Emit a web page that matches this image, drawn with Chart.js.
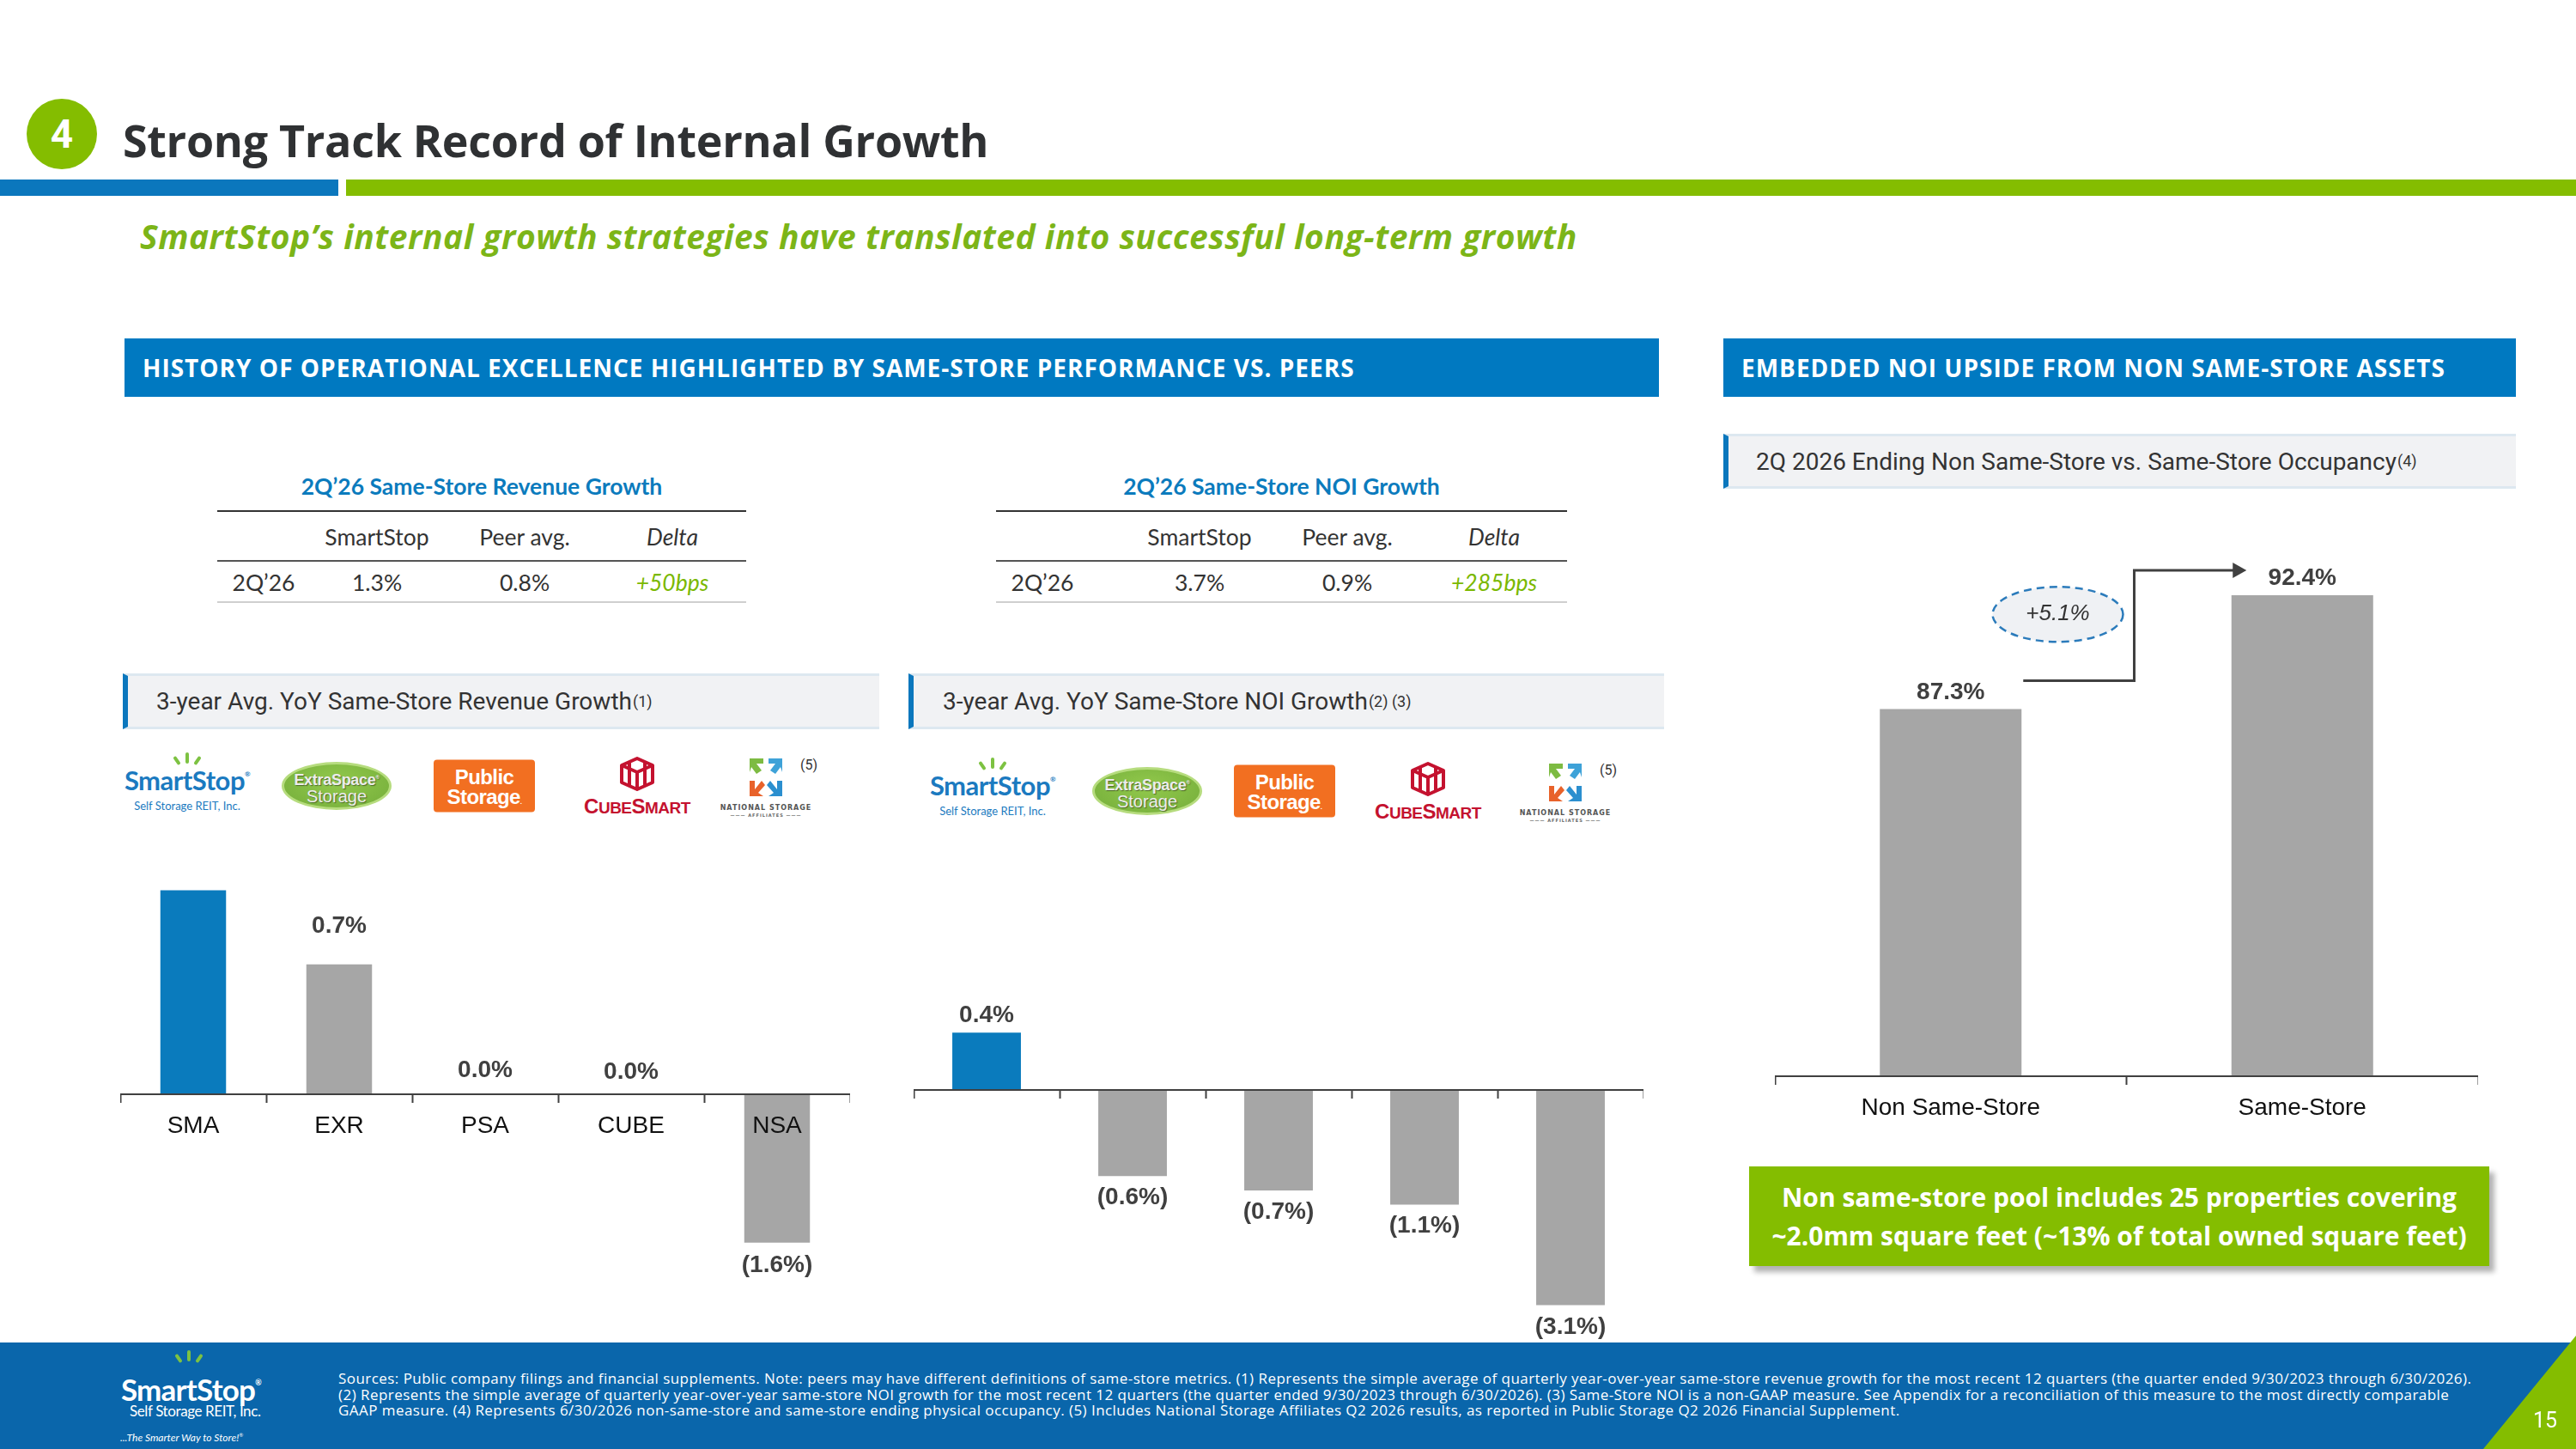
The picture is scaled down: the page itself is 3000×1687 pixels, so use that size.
<!DOCTYPE html>
<html>
<head>
<meta charset="utf-8">
<title>Strong Track Record of Internal Growth</title>
<script src="https://cdn.jsdelivr.net/npm/chart.js@4.4.1/dist/chart.umd.min.js"></script>
<style>
  html, body { margin: 0; padding: 0; }
  body {
    width: 3000px; height: 1687px; position: relative; overflow: hidden;
    background: #fff; font-family: Roboto, "Liberation Sans", sans-serif; color: #333;
  }
  .abs { position: absolute; }
  .t { position: absolute; white-space: nowrap; line-height: 1; }
  .c { transform: translate(-50%, -50%); }
  canvas { position: absolute; }

  /* header */
  .badge {
    left: 31px; top: 115px; width: 82px; height: 82px; border-radius: 50%;
    background: #84bd00; color: #fff; font: 700 46px Roboto, sans-serif;
    display: flex; align-items: center; justify-content: center;
  }
  .title { left: 143px; top: 127px; font: 700 52px "Open Sans", sans-serif; color: #2f3133; letter-spacing: -0.3px; }
  .subtitle { left: 163px; top: 248px; font: italic 700 39px "Open Sans", sans-serif; color: #7cb518; letter-spacing: 0.5px; }

  .section {
    top: 394px; height: 68px; background: #0079c1; color: #fff;
    font: 700 28px "Open Sans", sans-serif; display: flex; align-items: center; letter-spacing: 1px;
    padding-left: 21px; box-sizing: border-box; white-space: nowrap;
  }
  .subhead {
    height: 65px; background: #f1f2f4; box-sizing: border-box;
    border-left: 6px solid #0b77bd; border-top: 3px solid #dde8f0; border-bottom: 3px solid #dde8f0;
    font: 400 28px Roboto, sans-serif; color: #333; display: flex; align-items: center;
    white-space: nowrap;
  }
  .subhead sup { font-size: 18px; vertical-align: 11px; line-height: 0; margin-left: 1px; }

  /* tables */
  .tbl-title { font: 700 26.5px Lato, sans-serif; color: #0b7bbd; }
  .cell { font: 400 26.5px Lato, sans-serif; color: #333; }
  .cell.i { font-style: italic; }
  .cell.g { color: #7ab800; font-style: italic; }
  .rule { position: absolute; height: 2px; }

  /* logos */
  .logo { position: absolute; transform: translate(-50%, -50%); }
  .ss { width: 150px; height: 78px; }
  .ss .ray { position: absolute; width: 4px; height: 13px; background: #7dc242; border-radius: 2px; top: 0; }
  .ss .name { position: absolute; left: 0; right: 0; top: 17px; text-align: center; font: 700 31px Lato, sans-serif; color: #1b7ac0; letter-spacing: -0.5px; line-height: 1; }
  .ss .sub { position: absolute; left: 0; right: 0; top: 56px; text-align: center; font: 400 13px Lato, sans-serif; color: #1b7ac0; line-height: 1; }
  .exr {
    width: 122px; height: 50px; border-radius: 50%; border: 3px solid #b6dc7e;
    background: radial-gradient(ellipse at 50% 40%, #92c94c 0%, #74ad3a 100%);
    text-align: center; color: #ececec; text-shadow: 1px 1px 1px #4d6b2a;
    font-family: "Liberation Sans Narrow", "Liberation Sans", sans-serif; font-weight: 700;
  }
  .exr .a { font-size: 18px; line-height: 18px; padding-top: 6px; letter-spacing: -0.3px; }
  .exr .b { font-size: 20px; line-height: 20px; font-weight: 400; }
  .psa {
    width: 118px; height: 61px; background: #f26f21; border-radius: 4px; color: #fff;
    font: 700 24px "Liberation Sans", Arial, sans-serif; text-align: center; line-height: 23px;
    letter-spacing: -0.6px; box-sizing: border-box; padding-top: 8px;
  }
  .cube { width: 130px; height: 70px; text-align: center; }
  .cube .word { position: absolute; left: 0; right: 0; top: 47px; font: 700 19px "Liberation Sans Narrow", "Liberation Sans", sans-serif; color: #c4122f; line-height: 1; letter-spacing: -0.5px; }
  .cube .word b { font-size: 24px; }
  .nsa { width: 112px; height: 76px; }
  .nsa .w1 { position: absolute; left: 0; right: 0; top: 60px; text-align: center; font: 700 8px "DejaVu Sans", sans-serif; letter-spacing: 1px; color: #555; line-height: 1; }
  .nsa .w2 { position: absolute; left: 0; right: 0; top: 70px; text-align: center; font: 700 5px "DejaVu Sans", sans-serif; letter-spacing: 1px; color: #666; line-height: 1; }
  .nsa .fn { position: absolute; left: 96px; top: 4px; font: 400 16px Roboto, sans-serif; color: #333; }

  /* callout + footer */
  .callout {
    left: 2037px; top: 1358px; width: 862px; height: 116px; background: #84bd00;
    box-shadow: 6px 7px 6px rgba(0, 0, 0, 0.3); color: #fff; text-align: center;
    font: 700 30px "Open Sans", sans-serif; line-height: 45px; box-sizing: border-box; padding-top: 13px;
    white-space: nowrap;
  }
  .footer { left: 0; top: 1563px; width: 3000px; height: 124px; background: #0a66ab; }
  .notes { left: 394px; top: 1596px; font: 400 17px "Open Sans", sans-serif; letter-spacing: 0.45px; color: #fff; line-height: 18.5px; white-space: nowrap; }
</style>
</head>
<body>

<div class="abs badge">4</div>
<div class="t title">Strong Track Record of Internal Growth</div>
<div class="abs" style="left:0;top:209px;width:394px;height:19px;background:#0b77bd"></div>
<div class="abs" style="left:403px;top:209px;width:2597px;height:19px;background:#84bd00"></div>
<div class="t subtitle">SmartStop’s internal growth strategies have translated into successful long-term growth</div>

<div class="abs section" style="left:145px;width:1787px">HISTORY OF OPERATIONAL EXCELLENCE HIGHLIGHTED BY SAME-STORE PERFORMANCE VS. PEERS</div>
<div class="abs section" style="left:2007px;width:923px">EMBEDDED NOI UPSIDE FROM NON SAME-STORE ASSETS</div>

<div class="abs subhead" style="left:2007px;top:505px;width:923px;height:64px;padding-left:32px">2Q 2026 Ending Non Same-Store vs. Same-Store Occupancy<sup>(4)</sup></div>
<div class="abs subhead" style="left:143px;top:784px;width:881px;padding-left:33px">3-year Avg. YoY Same-Store Revenue Growth<sup>(1)</sup></div>
<div class="abs subhead" style="left:1058px;top:784px;width:880px;padding-left:34px">3-year Avg. YoY Same-Store NOI Growth<sup>(2) (3)</sup></div>

<div id="tables"></div>
<div id="logos"></div>

<canvas id="revenueChart" width="850" height="540" style="left:140px;top:1000px"></canvas>
<canvas id="noiChart" width="850" height="565" style="left:1064px;top:1000px"></canvas>
<canvas id="occupancyChart" width="819" height="720" style="left:2067px;top:600px"></canvas>

<div class="abs callout">Non same-store pool includes 25 properties covering<br>~2.0mm square feet (~13% of total owned square feet)</div>

<div class="abs footer"></div>
<div class="abs" style="left:0;top:1563px;width:3000px;height:124px">
  <div class="abs" style="left:218px;top:9px;width:4px;height:13px;background:#7dc242;border-radius:2px"></div>
  <div class="abs" style="left:206px;top:13px;width:4px;height:11px;background:#7dc242;border-radius:2px;transform:rotate(-35deg)"></div>
  <div class="abs" style="left:230px;top:13px;width:4px;height:11px;background:#7dc242;border-radius:2px;transform:rotate(35deg)"></div>
  <div class="t" style="left:141px;top:33px;font:700 35px Lato, sans-serif;color:#fff;letter-spacing:-0.8px">SmartStop<span style="font-size:9px;vertical-align:18px">®</span></div>
  <div class="t" style="left:151px;top:69px;font:400 17px Lato, sans-serif;color:#fff;letter-spacing:-0.4px">Self Storage REIT, Inc.</div>
  <div class="t" style="left:140px;top:103px;font:italic 400 12px Lato, sans-serif;color:#fff">...The Smarter Way to Store!<span style="font-size:6px;vertical-align:5px">®</span></div>
</div>
<div class="t notes">Sources: Public company filings and financial supplements. Note: peers may have different definitions of same-store metrics. (1) Represents the simple average of quarterly year-over-year same-store revenue growth for the most recent 12 quarters (the quarter ended 9/30/2023 through 6/30/2026).<br>(2) Represents the simple average of quarterly year-over-year same-store NOI growth for the most recent 12 quarters (the quarter ended 9/30/2023 through 6/30/2026). (3) Same-Store NOI is a non-GAAP measure. See Appendix for a reconciliation of this measure to the most directly comparable<br>GAAP measure. (4) Represents 6/30/2026 non-same-store and same-store ending physical occupancy. (5) Includes National Storage Affiliates Q2 2026 results, as reported in Public Storage Q2 2026 Financial Supplement.</div>
<svg class="abs" style="left:2860px;top:1550px" width="140" height="137">
  <polygon points="140,5 140,137 32,137" fill="#84bd00"/>
</svg>
<div class="t c" style="left:2964px;top:1653px;font:400 25px Roboto, sans-serif;color:#fff">15</div>

<script>
//
//
// Data
const companies = ['SMA', 'EXR', 'PSA', 'CUBE', 'NSA'];

// bar heights as drawn, and the value labels printed on them
const revenueValues = [1.1, 0.7, 0.0, 0.0, -0.8];
const revenueLabels = ['', '0.7%', '0.0%', '0.0%', '(1.6%)'];

const noiValues = [0.4, -0.6, -0.7, -0.8, -1.5];
const noiLabels = ['0.4%', '(0.6%)', '(0.7%)', '(1.1%)', '(3.1%)'];

const occupancyCategories = ['Non Same-Store', 'Same-Store'];
const occupancyValues = [87.3, 92.4];
const occupancyChange = '+5.1%';

// 2Q'26 tables
const tableHeader = ['SmartStop', 'Peer avg.', 'Delta'];
const revenueRow = ['2Q’26', '1.3%', '0.8%', '+50bps'];
const noiRow = ['2Q’26', '3.7%', '0.9%', '+285bps'];

//
//
// Colours / fonts
const BLUE = '#0a7bbd';
const GRAY = '#a6a6a6';
const AXIS = '#404040';
const LABEL_FONT = 'bold 28px "Liberation Sans", Arial, sans-serif';

/**
 * Tables
 */
function drawTable(left, width, title, cols, row) {
  let html = '';
  html += `<div class="t c tbl-title" style="left:${left + width / 2}px;top:566px">${title}</div>`;
  html += `<div class="rule" style="left:${left}px;top:594px;width:${width}px;background:#333"></div>`;
  html += `<div class="rule" style="left:${left}px;top:652px;width:${width}px;background:#555"></div>`;
  html += `<div class="rule" style="left:${left}px;top:700px;width:${width}px;background:#cfcfcf"></div>`;
  tableHeader.forEach((h, i) => {
    let cls = i === 2 ? 'cell i' : 'cell';
    html += `<div class="t c ${cls}" style="left:${cols[i + 1]}px;top:625px">${h}</div>`;
  });
  row.forEach((v, i) => {
    let cls = i === 3 ? 'cell g' : 'cell';
    html += `<div class="t c ${cls}" style="left:${cols[i]}px;top:678px">${v}</div>`;
  });
  return html;
}

document.getElementById('tables').innerHTML =
  drawTable(253, 616, '2Q’26 Same-Store Revenue Growth', [307, 439, 611, 783], revenueRow) +
  drawTable(1160, 665, '2Q’26 Same-Store NOI Growth', [1214, 1397, 1569, 1740], noiRow);

/**
 * Peer logos
 */
function smartStopLogo(x, y) {
  return `<div class="logo ss" style="left:${x}px;top:${y}px">
    <div class="ray" style="left:73px"></div>
    <div class="ray" style="left:61px;top:4px;height:11px;transform:rotate(-35deg)"></div>
    <div class="ray" style="left:85px;top:4px;height:11px;transform:rotate(35deg)"></div>
    <div class="name">SmartStop<span style="font-size:8px;vertical-align:16px">®</span></div>
    <div class="sub">Self Storage REIT, Inc.</div></div>`;
}
function extraSpaceLogo(x, y) {
  return `<div class="logo exr" style="left:${x}px;top:${y}px"><div class="a">ExtraSpace<span style="font-size:6px;vertical-align:7px">®</span></div><div class="b">Storage</div></div>`;
}
function publicStorageLogo(x, y) {
  return `<div class="logo psa" style="left:${x}px;top:${y}px">Public<br>Storage<span style="font-size:8px">.</span></div>`;
}
function cubeSmartLogo(x, y) {
  return `<div class="logo cube" style="left:${x}px;top:${y}px">
    <svg class="abs" style="left:43px;top:0" width="44" height="42" viewBox="0 0 44 42">
      <g fill="none" stroke="#c4122f" stroke-width="4" stroke-linejoin="round">
        <polygon points="22,3 40,11 40,31 22,39 4,31 4,11"/>
        <polyline points="4,11 22,19 40,11"/><line x1="22" y1="19" x2="22" y2="39"/>
        <polyline points="13,7 13,35"/><polyline points="31,7 31,35"/>
      </g></svg>
    <div class="word"><b>C</b>UBE<b>S</b>MART</div></div>`;
}
function nsaLogo(x, y) {
  return `<div class="logo nsa" style="left:${x}px;top:${y}px">
    <svg class="abs" style="left:31px;top:2px" width="50" height="52" viewBox="0 0 50 52">
      <polygon points="6,4 22,4 22,10 14,10 20,18 14,22 8,14 6,20" fill="#7dbb42"/>
      <polygon points="44,4 28,4 28,10 36,10 30,18 36,22 42,14 44,20" fill="#3ea2d8"/>
      <polygon points="6,48 6,30 12,30 12,40 20,30 24,35 16,44 22,48" fill="#e8622a"/>
      <polygon points="44,48 44,30 38,30 38,40 30,30 26,35 34,44 28,48" fill="#2b8fcf"/>
    </svg>
    <div class="fn">(5)</div>
    <div class="w1">NATIONAL STORAGE</div>
    <div class="w2">——— AFFILIATES ———</div></div>`;
}

function logoRow(centers, y) {
  return smartStopLogo(centers[0], y) + extraSpaceLogo(centers[1], y) +
    publicStorageLogo(centers[2], y) + cubeSmartLogo(centers[3], y) + nsaLogo(centers[4], y);
}

document.getElementById('logos').innerHTML =
  logoRow([218, 392, 564, 742, 892], 915) + logoRow([1156, 1336, 1496, 1663, 1823], 921);

/**
 * Value labels on bars
 */
function barLabelPlugin(id, texts, above, below) {
  return {
    id: id,
    afterDatasetsDraw(chart) {
      let ctx = chart.ctx;
      let meta = chart.getDatasetMeta(0);
      let values = chart.data.datasets[0].data;
      ctx.save();
      ctx.font = LABEL_FONT;
      ctx.fillStyle = AXIS;
      ctx.textAlign = 'center';
      ctx.textBaseline = 'middle';
      meta.data.forEach((bar, i) => {
        if (!texts[i]) return;
        let y = values[i] < 0 ? bar.y + below[i] : bar.y - above[i];
        ctx.fillText(texts[i], bar.x, y);
      });
      ctx.restore();
    }
  };
}

/**
 * Step arrow and change bubble between the occupancy bars
 */
const occupancyConnector = {
  id: 'occupancyConnector',
  afterDatasetsDraw(chart) {
    let ctx = chart.ctx;
    let [b0, b1] = chart.getDatasetMeta(0).data;
    let startX = b0.x + b0.width / 2 + 2;
    let startY = b0.y - 33;
    let midX = (b0.x + b1.x) / 2 + 9;
    let endY = b1.y - 29;
    let endX = b1.x - 65;

    ctx.save();
    ctx.strokeStyle = AXIS;
    ctx.lineWidth = 3;
    ctx.beginPath();
    ctx.moveTo(startX, startY);
    ctx.lineTo(midX, startY);
    ctx.lineTo(midX, endY);
    ctx.lineTo(endX - 12, endY);
    ctx.stroke();
    ctx.fillStyle = AXIS;
    ctx.beginPath();
    ctx.moveTo(endX, endY);
    ctx.lineTo(endX - 16, endY - 9);
    ctx.lineTo(endX - 16, endY + 9);
    ctx.closePath();
    ctx.fill();

    let cx = midX - 89;
    let cy = (startY + endY) / 2 - 13;
    ctx.beginPath();
    ctx.ellipse(cx, cy, 76, 32, 0, 0, Math.PI * 2);
    ctx.fillStyle = '#eff1f4';
    ctx.fill();
    ctx.setLineDash([9, 6]);
    ctx.strokeStyle = '#2b7bbb';
    ctx.lineWidth = 2.5;
    ctx.stroke();
    ctx.setLineDash([]);
    ctx.fillStyle = '#333';
    ctx.font = 'italic 26px "Liberation Sans", Arial, sans-serif';
    ctx.textAlign = 'center';
    ctx.textBaseline = 'middle';
    ctx.fillText(occupancyChange, cx, cy);
    ctx.restore();
  }
};

/**
 * Axis drawn along a value (zero line) that takes no layout space,
 * with tick labels painted over the bars so they stay visible
 */
function baselineAxis(baseValue, showLabels) {
  return {
    type: 'category',
    position: { y: baseValue },
    offset: true,
    grid: {
      display: true, drawOnChartArea: false, drawTicks: true,
      tickLength: 9, tickWidth: 2, tickColor: AXIS, offset: true
    },
    border: { display: true, color: AXIS, width: 2, z: 1 },
    ticks: {
      display: showLabels, color: '#111', padding: 11, maxRotation: 0, autoSkip: false, z: 1,
      font: { family: '"Liberation Sans", Arial, sans-serif', size: 28 }
    },
    afterFit(scale) { scale.height = 0; }
  };
}

function chartOptions(baseValue, yMin, yMax, showLabels) {
  return {
    responsive: false,
    animation: false,
    devicePixelRatio: 1,
    layout: { padding: 0 },
    plugins: { legend: { display: false }, tooltip: { enabled: false } },
    scales: {
      x: baselineAxis(baseValue, showLabels),
      y: { type: 'linear', display: false, min: yMin, max: yMax }
    }
  };
}

//
//
// Draw the three charts
new Chart(document.getElementById('revenueChart').getContext('2d'), {
  type: 'bar',
  data: {
    labels: companies,
    datasets: [{
      data: revenueValues,
      backgroundColor: companies.map((c, i) => i === 0 ? BLUE : GRAY),
      barPercentage: 0.45,
      categoryPercentage: 1
    }]
  },
  options: chartOptions(0, -1.2315, 1.2685, true),
  plugins: [barLabelPlugin('revenueLabels', revenueLabels, [27, 45, 28, 26, 26], [26, 26, 26, 26, 26])]
});

new Chart(document.getElementById('noiChart').getContext('2d'), {
  type: 'bar',
  data: {
    labels: companies,
    datasets: [{
      data: noiValues,
      backgroundColor: companies.map((c, i) => i === 0 ? BLUE : GRAY),
      barPercentage: 0.47,
      categoryPercentage: 1
    }]
  },
  options: chartOptions(0, -1.7725, 1.6108, false),
  plugins: [barLabelPlugin('noiLabels', noiLabels, [20, 20, 20, 20, 20], [24, 25, 25, 25, 26])]
});

const OCC_BASE = 70.8;
new Chart(document.getElementById('occupancyChart').getContext('2d'), {
  type: 'bar',
  data: {
    labels: occupancyCategories,
    datasets: [{
      data: occupancyValues,
      base: OCC_BASE,
      backgroundColor: GRAY,
      barPercentage: 0.403,
      categoryPercentage: 1
    }]
  },
  options: chartOptions(OCC_BASE, 68.23, 95.99, true),
  plugins: [
    barLabelPlugin('occupancyLabels', occupancyValues.map(v => v.toFixed(1) + '%'), [19, 20], [0, 0]),
    occupancyConnector
  ]
});
</script>
</body>
</html>
